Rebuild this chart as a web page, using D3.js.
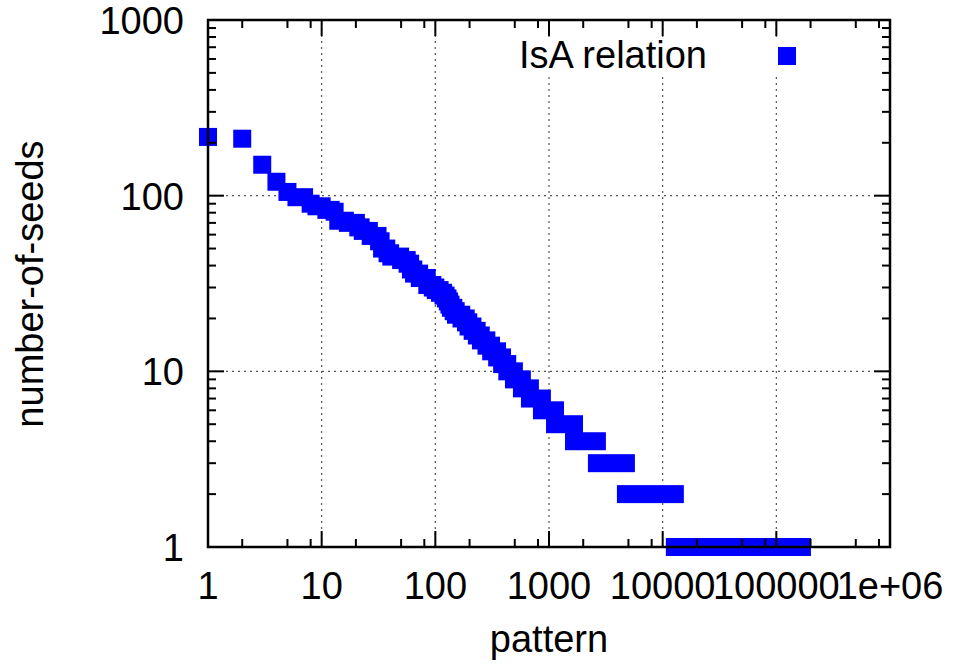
<!DOCTYPE html>
<html>
<head>
<meta charset="utf-8">
<script src="https://cdn.jsdelivr.net/npm/d3@7"></script>
<style>
body { margin: 0; background: #fff; }
text { font-family: "Liberation Sans", Arial, sans-serif; fill: #000; }
</style>
</head>
<body>
<svg id="chart" width="953" height="669"></svg>
<script>

// runs of equal value:
// first pattern rank, last pattern rank, number-of-seeds
var run_first = [1, 2, 3, 4, 5, 6, 8, 9, 11, 13, 14, 17, 21, 23, 27, 32, 34, 38, 41, 50, 57, 61, 65, 73, 85,
                 95, 101, 110, 118, 124, 129, 133, 137, 145, 152, 170, 186, 196, 213, 232, 252, 282, 310, 350,
                 387, 430, 492, 578, 680, 867, 1130, 1660, 2640, 4750, 12800]
var run_last = [1, 2, 3, 4, 5, 7, 8, 10, 12, 13, 16, 20, 22, 26, 31, 33, 37, 40, 49, 56, 60, 64, 72, 84, 94,
                100, 109, 117, 123, 128, 132, 136, 144, 151, 169, 185, 195, 212, 231, 251, 281, 309, 349, 386,
                429, 491, 577, 679, 866, 1129, 1659, 2639, 4749, 12799, 168000]
var run_seeds = [216, 211, 150, 120, 105, 98, 90, 87, 83, 81, 72, 70, 66, 63, 59, 55, 50, 47, 45, 43, 41, 38, 36, 34, 31,
                 30, 29, 28, 27, 26, 25, 24, 23, 22, 21, 20, 19, 18, 17, 16, 15, 14, 13, 12,
                 11, 10, 9, 8, 7, 6, 5, 4, 3, 2, 1]

var x_ticks = [1, 10, 100, 1000, 10000, 100000, 1000000]
var x_tick_labels = ["1", "10", "100", "1000", "10000", "100000", "1e+06"]
var x_minor = [2, 5, 8]
var y_ticks = [1, 10, 100, 1000]
var y_tick_labels = ["1", "10", "100", "1000"]
var y_minor = [2, 3, 4, 5, 6, 7, 8, 9]
var series_name = "IsA relation"
var x_title = "pattern"
var y_title = "number-of-seeds"

var plot_left = 208, plot_right = 890, plot_top = 20, plot_bottom = 547
var sq = 18
var blue = "#0000ff"

var svg = d3.select("#chart")

var xScale = d3.scaleLog().domain([1, 1000000]).range([plot_left, plot_right])
var yScale = d3.scaleLog().domain([1, 1000]).range([plot_bottom, plot_top])

// minor tick values
var x_minor_vals = []
for (var i = 0; i < x_ticks.length - 1; i++) {
    for (var j = 0; j < x_minor.length; j++) x_minor_vals.push(x_ticks[i] * x_minor[j])
}
var y_minor_vals = []
for (var i = 0; i < y_ticks.length - 1; i++) {
    for (var j = 0; j < y_minor.length; j++) y_minor_vals.push(y_ticks[i] * y_minor[j])
}

// grid
var grid = svg.append("g")
grid.selectAll(null).data(x_ticks.slice(1, -1)).enter().append("line")
    .attr("x1", function(d) { return xScale(d) }).attr("x2", function(d) { return xScale(d) })
    .attr("y1", plot_bottom).attr("y2", plot_top)
    .attr("stroke", "#555").attr("stroke-width", 1.2).attr("stroke-dasharray", "2,4")
grid.selectAll(null).data(y_ticks.slice(1, -1)).enter().append("line")
    .attr("y1", function(d) { return yScale(d) }).attr("y2", function(d) { return yScale(d) })
    .attr("x1", plot_left).attr("x2", plot_right)
    .attr("stroke", "#555").attr("stroke-width", 1.2).attr("stroke-dasharray", "2,4")

// key area is cleared like gnuplot does
svg.append("rect").attr("x", 505).attr("y", 37).attr("width", 300).attr("height", 38).attr("fill", "#fff")

// data: each run of equal seeds drawn as overlapping square points
svg.append("g").selectAll("rect")
    .data(d3.range(run_seeds.length))
    .enter().append("rect")
    .attr("x", function(i) { return xScale(run_first[i]) - sq / 2 })
    .attr("y", function(i) { return yScale(run_seeds[i]) - sq / 2 })
    .attr("width", function(i) { return xScale(run_last[i]) - xScale(run_first[i]) + sq })
    .attr("height", sq)
    .attr("fill", blue)

// frame and tics (mirrored on all sides)
var frame = svg.append("g").attr("stroke", "#000")
frame.append("rect").attr("x", plot_left).attr("y", plot_top)
    .attr("width", plot_right - plot_left).attr("height", plot_bottom - plot_top)
    .attr("fill", "none").attr("stroke-width", 2.5)

function xtics(vals, len) {
    frame.selectAll(null).data(vals).enter().append("line")
        .attr("x1", function(d) { return xScale(d) }).attr("x2", function(d) { return xScale(d) })
        .attr("y1", plot_bottom).attr("y2", plot_bottom - len).attr("stroke-width", 2)
    frame.selectAll(null).data(vals).enter().append("line")
        .attr("x1", function(d) { return xScale(d) }).attr("x2", function(d) { return xScale(d) })
        .attr("y1", plot_top).attr("y2", plot_top + len).attr("stroke-width", 2)
}
function ytics(vals, len) {
    frame.selectAll(null).data(vals).enter().append("line")
        .attr("y1", function(d) { return yScale(d) }).attr("y2", function(d) { return yScale(d) })
        .attr("x1", plot_left).attr("x2", plot_left + len).attr("stroke-width", 2)
    frame.selectAll(null).data(vals).enter().append("line")
        .attr("y1", function(d) { return yScale(d) }).attr("y2", function(d) { return yScale(d) })
        .attr("x1", plot_right).attr("x2", plot_right - len).attr("stroke-width", 2)
}
xtics(x_ticks, 16)
xtics(x_minor_vals, 8)
ytics(y_ticks, 16)
ytics(y_minor_vals, 8)

// tick labels
svg.selectAll(null).data(x_ticks).enter().append("text")
    .attr("x", function(d) { return xScale(d) })
    .attr("y", 599)
    .attr("text-anchor", "middle")
    .style("font-size", "38px")
    .text(function(d, i) { return x_tick_labels[i] })

svg.selectAll(null).data(y_ticks).enter().append("text")
    .attr("x", 184)
    .attr("y", function(d) { return yScale(d) + 14 })
    .attr("text-anchor", "end")
    .style("font-size", "38px")
    .text(function(d, i) { return y_tick_labels[i] })

// axis titles
svg.append("text").attr("x", 549).attr("y", 652).attr("text-anchor", "middle")
    .style("font-size", "38px").text(x_title)
svg.append("text").attr("transform", "translate(43,284) rotate(-90)").attr("text-anchor", "middle")
    .style("font-size", "38px").text(y_title)

// key
svg.append("text").attr("x", 707).attr("y", 68).attr("text-anchor", "end")
    .style("font-size", "38px").text(series_name)
svg.append("rect").attr("x", 787 - sq / 2).attr("y", 56 - sq / 2).attr("width", sq).attr("height", sq).attr("fill", blue)

</script>
</body>
</html>
